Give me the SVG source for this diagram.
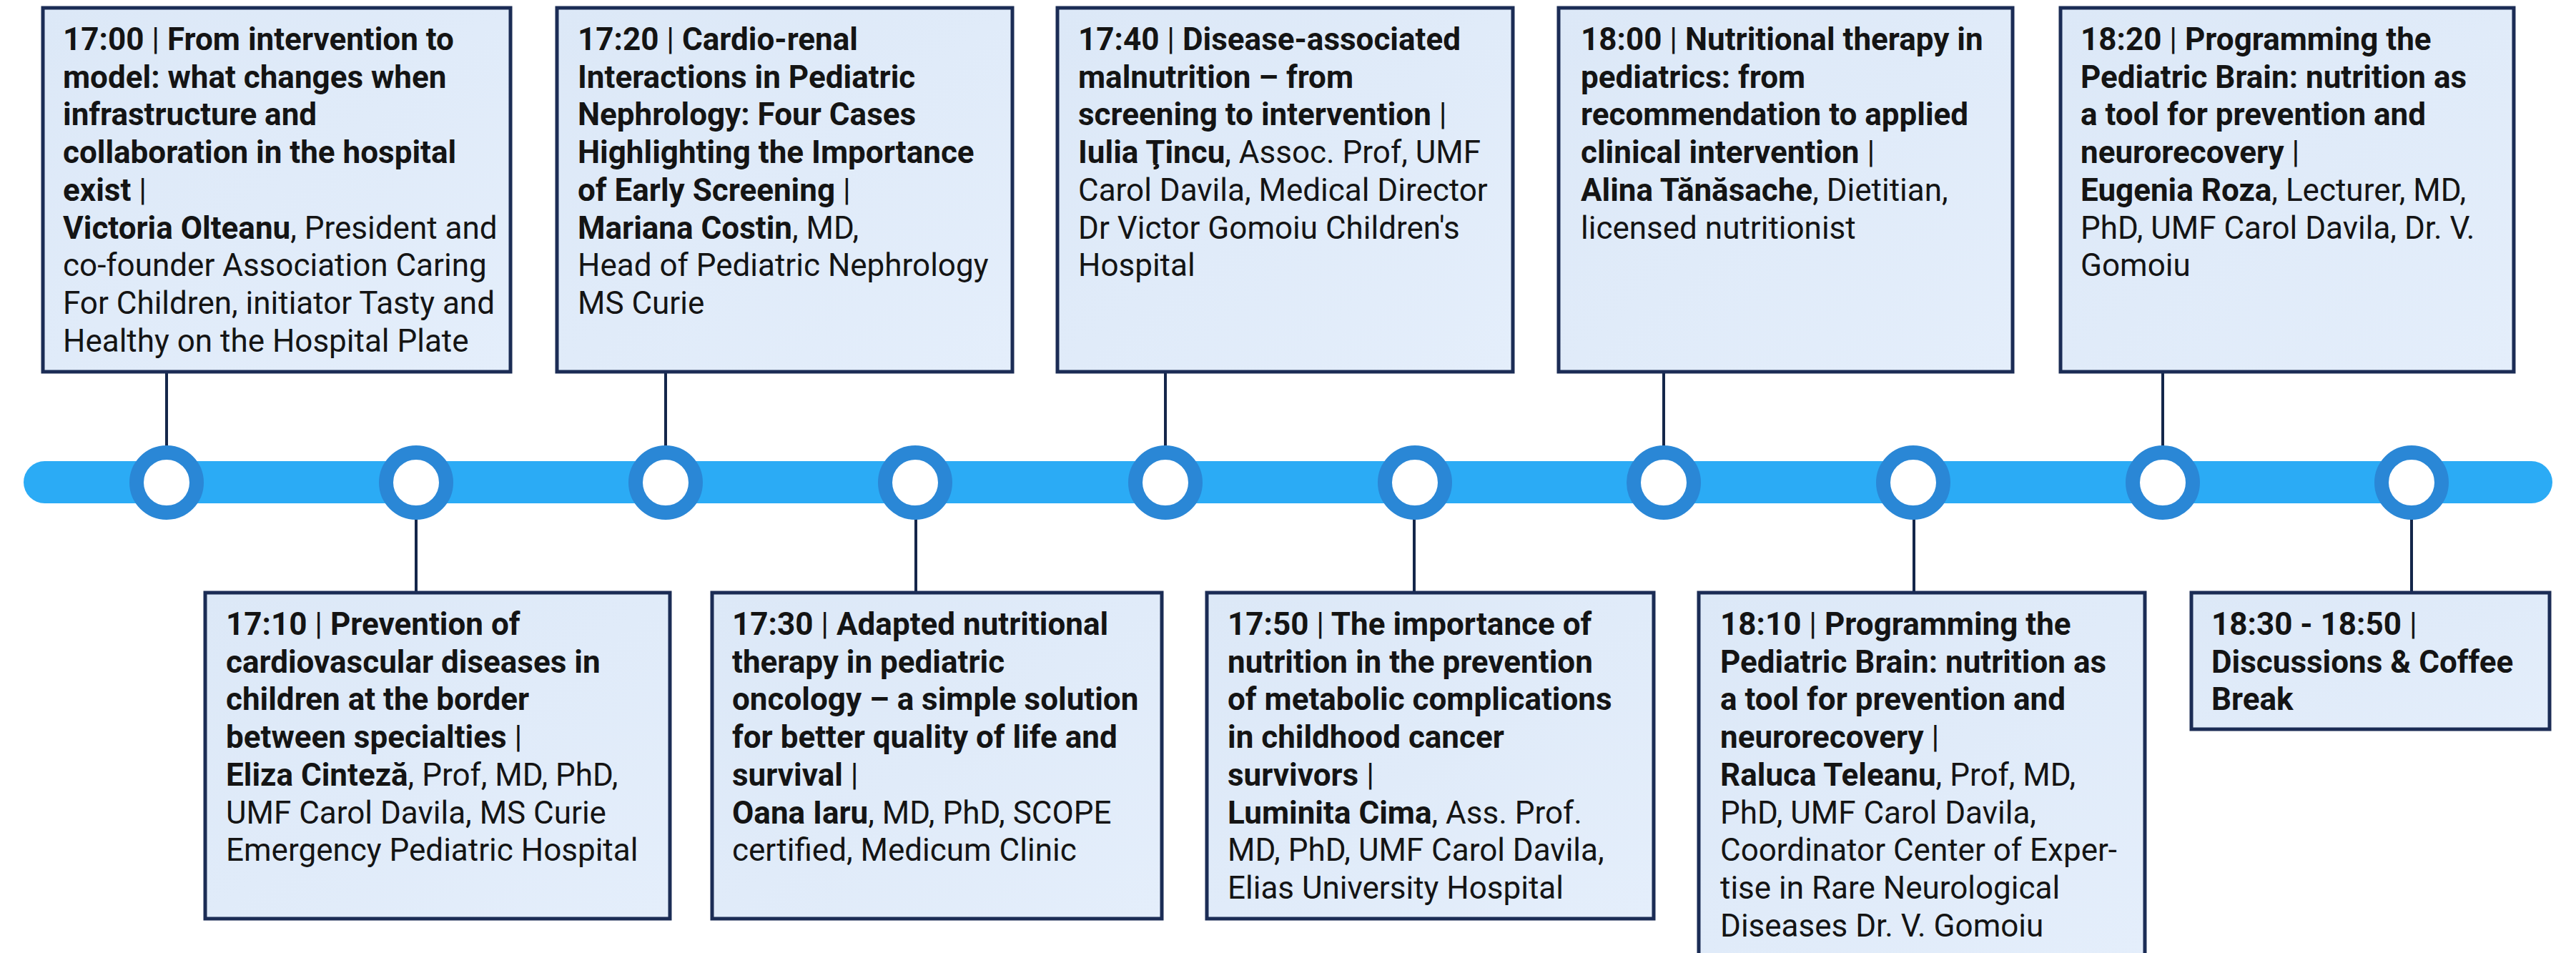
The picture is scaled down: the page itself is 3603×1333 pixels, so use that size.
<svg xmlns="http://www.w3.org/2000/svg" width="3603" height="1333" viewBox="0 0 3603 1333">
<defs>
<linearGradient id="boxfill" x1="0" y1="0" x2="1" y2="1">
<stop offset="0" stop-color="#dce8f7"/>
<stop offset="1" stop-color="#e4eefb"/>
</linearGradient>
<style>
.box{fill:url(#boxfill);stroke:#1b2c55;stroke-width:5}
.conn{stroke:#14264a;stroke-width:4;fill:none}
.ring{fill:#ffffff;stroke:#2a87d6;stroke-width:20}
text{font-family:Roboto,"Liberation Sans",sans-serif;font-size:44px;fill:#141414}
.b{font-weight:700}
.r{font-weight:400}
</style>
</defs>
<rect width="3603" height="1333" fill="#ffffff"/>
<g id="timeline">
<rect x="33" y="645" width="3537" height="59" rx="29.5" fill="#2babf5"/>
</g>
<g id="connectors">
<line class="conn" x1="233" y1="520" x2="233" y2="625"/>
<line class="conn" x1="931" y1="520" x2="931" y2="625"/>
<line class="conn" x1="1630" y1="520" x2="1630" y2="625"/>
<line class="conn" x1="2327" y1="520" x2="2327" y2="625"/>
<line class="conn" x1="3025" y1="520" x2="3025" y2="625"/>
<line class="conn" x1="582" y1="725" x2="582" y2="829"/>
<line class="conn" x1="1281" y1="725" x2="1281" y2="829"/>
<line class="conn" x1="1978" y1="725" x2="1978" y2="829"/>
<line class="conn" x1="2677" y1="725" x2="2677" y2="829"/>
<line class="conn" x1="3373" y1="725" x2="3373" y2="829"/>
</g>
<g id="markers">
<circle class="ring" cx="233" cy="675" r="42"/>
<circle class="ring" cx="582" cy="675" r="42"/>
<circle class="ring" cx="931" cy="675" r="42"/>
<circle class="ring" cx="1280" cy="675" r="42"/>
<circle class="ring" cx="1630" cy="675" r="42"/>
<circle class="ring" cx="1979" cy="675" r="42"/>
<circle class="ring" cx="2327" cy="675" r="42"/>
<circle class="ring" cx="2676" cy="675" r="42"/>
<circle class="ring" cx="3025" cy="675" r="42"/>
<circle class="ring" cx="3373" cy="675" r="42"/>
</g>
<g id="node-1700">
<rect class="box" x="60" y="11" width="654" height="509"/>
<text x="88" y="70" class="b">17:00 <tspan class="r">|</tspan> From intervention to</text>
<text x="88" y="122.7" class="b">model: what changes when</text>
<text x="88" y="175.4" class="b">infrastructure and</text>
<text x="88" y="228.1" class="b">collaboration in the hospital</text>
<text x="88" y="280.8" class="b">exist <tspan class="r">|</tspan></text>
<text x="88" y="333.5" class="b">Victoria Olteanu<tspan class="r">, President and</tspan></text>
<text x="88" y="386.2" class="r">co-founder Association Caring</text>
<text x="88" y="438.9" class="r">For Children, initiator Tasty and</text>
<text x="88" y="491.6" class="r">Healthy on the Hospital Plate</text>
</g>
<g id="node-1720">
<rect class="box" x="779" y="11" width="637" height="509"/>
<text x="808" y="70" class="b">17:20 <tspan class="r">|</tspan> Cardio-renal</text>
<text x="808" y="122.7" class="b">Interactions in Pediatric</text>
<text x="808" y="175.4" class="b">Nephrology: Four Cases</text>
<text x="808" y="228.1" class="b">Highlighting the Importance</text>
<text x="808" y="280.8" class="b">of Early Screening <tspan class="r">|</tspan></text>
<text x="808" y="333.5" class="b">Mariana Costin<tspan class="r">, MD,</tspan></text>
<text x="808" y="386.2" class="r">Head of Pediatric Nephrology</text>
<text x="808" y="438.9" class="r">MS Curie</text>
</g>
<g id="node-1740">
<rect class="box" x="1479" y="11" width="637" height="509"/>
<text x="1508" y="70" class="b">17:40 <tspan class="r">|</tspan> Disease-associated</text>
<text x="1508" y="122.7" class="b">malnutrition – from</text>
<text x="1508" y="175.4" class="b">screening to intervention <tspan class="r">|</tspan></text>
<text x="1508" y="228.1" class="b">Iulia Ţincu<tspan class="r">, Assoc. Prof, UMF</tspan></text>
<text x="1508" y="280.8" class="r">Carol Davila, Medical Director</text>
<text x="1508" y="333.5" class="r">Dr Victor Gomoiu Children's</text>
<text x="1508" y="386.2" class="r">Hospital</text>
</g>
<g id="node-1800">
<rect class="box" x="2180" y="11" width="635" height="509"/>
<text x="2211" y="70" class="b">18:00 <tspan class="r">|</tspan> Nutritional therapy in</text>
<text x="2211" y="122.7" class="b">pediatrics: from</text>
<text x="2211" y="175.4" class="b">recommendation to applied</text>
<text x="2211" y="228.1" class="b">clinical intervention <tspan class="r">|</tspan></text>
<text x="2211" y="280.8" class="b">Alina Tănăsache<tspan class="r">, Dietitian,</tspan></text>
<text x="2211" y="333.5" class="r">licensed nutritionist</text>
</g>
<g id="node-1820">
<rect class="box" x="2882" y="11" width="634" height="509"/>
<text x="2910" y="70" class="b">18:20 <tspan class="r">|</tspan> Programming the</text>
<text x="2910" y="122.7" class="b">Pediatric Brain: nutrition as</text>
<text x="2910" y="175.4" class="b">a tool for prevention and</text>
<text x="2910" y="228.1" class="b">neurorecovery <tspan class="r">|</tspan></text>
<text x="2910" y="280.8" class="b">Eugenia Roza<tspan class="r">, Lecturer, MD,</tspan></text>
<text x="2910" y="333.5" class="r">PhD, UMF Carol Davila, Dr. V.</text>
<text x="2910" y="386.2" class="r">Gomoiu</text>
</g>
<g id="node-1710">
<rect class="box" x="287" y="829" width="650" height="456"/>
<text x="316" y="888" class="b">17:10 <tspan class="r">|</tspan> Prevention of</text>
<text x="316" y="940.7" class="b">cardiovascular diseases in</text>
<text x="316" y="993.4" class="b">children at the border</text>
<text x="316" y="1046.1" class="b">between specialties <tspan class="r">|</tspan></text>
<text x="316" y="1098.8" class="b">Eliza Cinteză<tspan class="r">, Prof, MD, PhD,</tspan></text>
<text x="316" y="1151.5" class="r">UMF Carol Davila, MS Curie</text>
<text x="316" y="1204.2" class="r">Emergency Pediatric Hospital</text>
</g>
<g id="node-1730">
<rect class="box" x="996" y="829" width="629" height="456"/>
<text x="1024" y="888" class="b">17:30 <tspan class="r">|</tspan> Adapted nutritional</text>
<text x="1024" y="940.7" class="b">therapy in pediatric</text>
<text x="1024" y="993.4" class="b">oncology – a simple solution</text>
<text x="1024" y="1046.1" class="b">for better quality of life and</text>
<text x="1024" y="1098.8" class="b">survival <tspan class="r">|</tspan></text>
<text x="1024" y="1151.5" class="b">Oana Iaru<tspan class="r">, MD, PhD, SCOPE</tspan></text>
<text x="1024" y="1204.2" class="r">certified, Medicum Clinic</text>
</g>
<g id="node-1750">
<rect class="box" x="1688" y="829" width="625" height="456"/>
<text x="1717" y="888" class="b">17:50 <tspan class="r">|</tspan> The importance of</text>
<text x="1717" y="940.7" class="b">nutrition in the prevention</text>
<text x="1717" y="993.4" class="b">of metabolic complications</text>
<text x="1717" y="1046.1" class="b">in childhood cancer</text>
<text x="1717" y="1098.8" class="b">survivors <tspan class="r">|</tspan></text>
<text x="1717" y="1151.5" class="b">Luminita Cima<tspan class="r">, Ass. Prof.</tspan></text>
<text x="1717" y="1204.2" class="r">MD, PhD, UMF Carol Davila,</text>
<text x="1717" y="1256.9" class="r">Elias University Hospital</text>
</g>
<g id="node-1810">
<rect class="box" x="2376" y="829" width="624" height="520"/>
<text x="2406" y="888" class="b">18:10 <tspan class="r">|</tspan> Programming the</text>
<text x="2406" y="940.7" class="b">Pediatric Brain: nutrition as</text>
<text x="2406" y="993.4" class="b">a tool for prevention and</text>
<text x="2406" y="1046.1" class="b">neurorecovery <tspan class="r">|</tspan></text>
<text x="2406" y="1098.8" class="b">Raluca Teleanu<tspan class="r">, Prof, MD,</tspan></text>
<text x="2406" y="1151.5" class="r">PhD, UMF Carol Davila,</text>
<text x="2406" y="1204.2" class="r">Coordinator Center of Exper-</text>
<text x="2406" y="1256.9" class="r">tise in Rare Neurological</text>
<text x="2406" y="1309.6" class="r">Diseases Dr. V. Gomoiu</text>
</g>
<g id="node-1830">
<rect class="box" x="3065" y="829" width="501" height="191"/>
<text x="3093" y="888" class="b">18:30 - 18:50 <tspan class="r">|</tspan></text>
<text x="3093" y="940.7" class="b">Discussions &amp; Coffee</text>
<text x="3093" y="993.4" class="b">Break</text>
</g>
</svg>
